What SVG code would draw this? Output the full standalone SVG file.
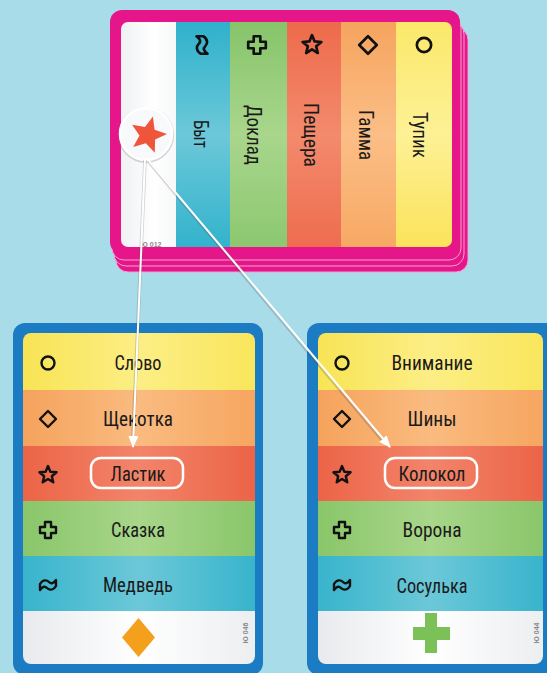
<svg xmlns="http://www.w3.org/2000/svg" width="547" height="673" viewBox="0 0 547 673">
<style>
.lbl{font-family:"Roboto Condensed","Liberation Sans Narrow","Roboto","Liberation Sans",sans-serif;font-size:21px;fill:#1a1a1a;text-anchor:middle;dominant-baseline:central}
.vl{font-family:"Roboto Condensed","Liberation Sans Narrow","Roboto","Liberation Sans",sans-serif;font-size:20px;fill:#1a1a1a;text-anchor:middle;dominant-baseline:central}
.id{font-family:"Liberation Sans",sans-serif;font-size:7px;font-weight:bold;fill:#8a8a8a;text-anchor:middle;dominant-baseline:central}
.sym{fill:none;stroke:#111;stroke-width:2.4;stroke-linejoin:round}
.hl{fill:none;stroke:#fff;stroke-width:2.5}
.conn{fill:none;stroke:#fff;stroke-width:2}
.shadow{fill:none;stroke:#555;stroke-width:3.5;opacity:0.25}
</style>
<defs>
<linearGradient id="gy" x1="0" x2="1" y1="0" y2="0"><stop offset="0" stop-color="#f8e455"/><stop offset="0.5" stop-color="#fcee85"/><stop offset="1" stop-color="#f9e65c"/></linearGradient>
<linearGradient id="go" x1="0" x2="1" y1="0" y2="0"><stop offset="0" stop-color="#f5a35c"/><stop offset="0.5" stop-color="#fabb80"/><stop offset="1" stop-color="#f6a660"/></linearGradient>
<linearGradient id="gr" x1="0" x2="1" y1="0" y2="0"><stop offset="0" stop-color="#ec6447"/><stop offset="0.5" stop-color="#f2846a"/><stop offset="1" stop-color="#ec6447"/></linearGradient>
<linearGradient id="gg" x1="0" x2="1" y1="0" y2="0"><stop offset="0" stop-color="#8ac66a"/><stop offset="0.5" stop-color="#a8d68a"/><stop offset="1" stop-color="#8ac66a"/></linearGradient>
<linearGradient id="gb" x1="0" x2="1" y1="0" y2="0"><stop offset="0" stop-color="#38b4cc"/><stop offset="0.5" stop-color="#6cc8d8"/><stop offset="1" stop-color="#38b4cc"/></linearGradient>
<linearGradient id="gw" x1="0" x2="1" y1="0" y2="0"><stop offset="0" stop-color="#e8eaed"/><stop offset="0.5" stop-color="#ffffff"/><stop offset="1" stop-color="#eceef0"/></linearGradient>
<linearGradient id="vy" x1="0" x2="0" y1="0" y2="1"><stop offset="0" stop-color="#fbe86a"/><stop offset="0.5" stop-color="#fdf196"/><stop offset="1" stop-color="#fbe35a"/></linearGradient>
<linearGradient id="vo" x1="0" x2="0" y1="0" y2="1"><stop offset="0" stop-color="#f6a45e"/><stop offset="0.5" stop-color="#fbbe86"/><stop offset="1" stop-color="#f7a964"/></linearGradient>
<linearGradient id="vr" x1="0" x2="0" y1="0" y2="1"><stop offset="0" stop-color="#ee6a4c"/><stop offset="0.5" stop-color="#f38a6c"/><stop offset="1" stop-color="#ef6c4f"/></linearGradient>
<linearGradient id="vg" x1="0" x2="0" y1="0" y2="1"><stop offset="0" stop-color="#86c46a"/><stop offset="0.5" stop-color="#a9d68c"/><stop offset="1" stop-color="#8cc870"/></linearGradient>
<linearGradient id="vb" x1="0" x2="0" y1="0" y2="1"><stop offset="0" stop-color="#2fb1cb"/><stop offset="0.5" stop-color="#6cc8d9"/><stop offset="1" stop-color="#33b3cc"/></linearGradient>
<linearGradient id="vw" x1="0" x2="1" y1="0" y2="0"><stop offset="0" stop-color="#f0f1f3"/><stop offset="0.6" stop-color="#ffffff"/><stop offset="1" stop-color="#f6f7f8"/></linearGradient>
<clipPath id="clipTop"><rect x="121" y="22" width="331" height="225" rx="7"/></clipPath>
<clipPath id="clipL"><rect x="23" y="333" width="232" height="331" rx="8"/></clipPath>
<clipPath id="clipR"><rect x="318" y="333" width="225" height="331" rx="8"/></clipPath>
<g id="s-circle"><circle r="6.5" class="sym"/></g>
<g id="s-diamond"><polygon points="0,-8 8,0 0,8 -8,0" class="sym"/></g>
<g id="s-star"><polygon points="0,-9 2.35,-3.24 8.56,-2.78 3.8,1.24 5.29,7.28 0,4 -5.29,7.28 -3.8,1.24 -8.56,-2.78 -2.35,-3.24" class="sym"/></g>
<g id="s-plus"><polygon points="-3,-8 3,-8 3,-3 8,-3 8,3 3,3 3,8 -3,8 -3,3 -8,3 -8,-3 -3,-3" class="sym"/></g>
<g id="s-wave"><path d="M-8,-1 C-5,-6 -1,-5 1,-3 S5,-1 8,-5 L8,1 C5,6 1,5 -1,3 S-5,1 -8,5 Z" class="sym"/></g>
<marker id="ah" viewBox="0 0 12 10" refX="11" refY="5" markerWidth="12" markerHeight="10" markerUnits="userSpaceOnUse" orient="auto"><path d="M0,0 L12,5 L0,10 Z" fill="#fff"/></marker>
</defs>
<rect width="547" height="673" fill="#a8dce8"/>

<g id="top-card">
  <rect x="116" y="28" width="352" height="244" rx="12" fill="#e4168a" stroke="#f6a2cf" stroke-width="1"/>
  <rect x="114" y="22" width="350" height="244" rx="12" fill="#e4168a" stroke="#f6a2cf" stroke-width="1"/>
  <rect x="112" y="16" width="349" height="244" rx="12" fill="#e4168a" stroke="#f6a2cf" stroke-width="1"/>
  <rect x="110" y="10" width="350" height="244" rx="12" fill="#e6168a"/>
  <g clip-path="url(#clipTop)">
    <rect x="121" y="22" width="56" height="225" fill="url(#vw)"/>
    <rect x="176" y="22" width="55" height="225" fill="url(#vb)"/>
    <rect x="230" y="22" width="57" height="225" fill="url(#vg)"/>
    <rect x="287" y="22" width="54" height="225" fill="url(#vr)"/>
    <rect x="341" y="22" width="56" height="225" fill="url(#vo)"/>
    <rect x="396" y="22" width="56" height="225" fill="url(#vy)"/>
  </g>
  <use href="#s-wave" transform="translate(202,45) rotate(90) scale(1.1)"/>
  <use href="#s-plus" transform="translate(257,45) scale(1.1)"/>
  <use href="#s-star" transform="translate(312,45) scale(1.1)"/>
  <use href="#s-diamond" transform="translate(368,45) scale(1.1)"/>
  <use href="#s-circle" transform="translate(424,45) scale(1.1)"/>
  <text class="vl" transform="translate(201,134) rotate(90)" textLength="28" lengthAdjust="spacingAndGlyphs">Быт</text>
  <text class="vl" transform="translate(254,135) rotate(90)" textLength="60" lengthAdjust="spacingAndGlyphs">Доклад</text>
  <text class="vl" transform="translate(311,135) rotate(90)" textLength="64" lengthAdjust="spacingAndGlyphs">Пещера</text>
  <text class="vl" transform="translate(366,135) rotate(90)" textLength="50" lengthAdjust="spacingAndGlyphs">Гамма</text>
  <text class="vl" transform="translate(420,135) rotate(90)" textLength="46" lengthAdjust="spacingAndGlyphs">Тупик</text>
  <circle cx="146" cy="135" r="26.5" fill="none" stroke="#777" stroke-width="3" opacity="0.3"/>
  <circle cx="146" cy="134" r="26" fill="#f8f9fa" stroke="#fff" stroke-width="2.5"/>
  <polygon points="152.9,116.6 154.6,129.7 167,134 155.1,139.6 154.8,152.7 145.8,143.2 133.2,147 139.5,135.4 132.1,124.7 145,127.1" fill="#ee553a"/>
  <text class="id" x="151" y="244">Ю 012</text>
</g>

<g id="card-left">
  <rect x="13" y="323" width="250" height="352" rx="12" fill="#1b7cc4"/>
  <g clip-path="url(#clipL)">
    <rect x="23" y="333" width="232" height="57" fill="url(#gy)"/>
    <rect x="23" y="390" width="232" height="56" fill="url(#go)"/>
    <rect x="23" y="446" width="232" height="55" fill="url(#gr)"/>
    <rect x="23" y="501" width="232" height="55" fill="url(#gg)"/>
    <rect x="23" y="556" width="232" height="55" fill="url(#gb)"/>
    <rect x="23" y="611" width="232" height="53" fill="url(#gw)"/>
  </g>
  <use href="#s-circle" transform="translate(48,363)"/>
  <use href="#s-diamond" transform="translate(48,419)"/>
  <use href="#s-star" transform="translate(48,475)"/>
  <use href="#s-plus" transform="translate(48,530)"/>
  <use href="#s-wave" transform="translate(48,585)"/>
  <text class="lbl" x="138" y="363" textLength="47" lengthAdjust="spacingAndGlyphs">Слово</text>
  <text class="lbl" x="138" y="419" textLength="70" lengthAdjust="spacingAndGlyphs">Щекотка</text>
  <rect class="hl" x="91" y="458" width="92" height="30" rx="10"/>
  <text class="lbl" x="138" y="474" textLength="55" lengthAdjust="spacingAndGlyphs">Ластик</text>
  <text class="lbl" x="138" y="530" textLength="54" lengthAdjust="spacingAndGlyphs">Сказка</text>
  <text class="lbl" x="138" y="585" textLength="70" lengthAdjust="spacingAndGlyphs">Медведь</text>
  <polygon points="138.5,618 155,637.5 138.5,657 122,637.5" fill="#f5a01c"/>
  <text class="id" transform="translate(245,633) rotate(-90)">Ю 046</text>
</g>

<g id="card-right">
  <rect x="307" y="323" width="252" height="352" rx="12" fill="#1b7cc4"/>
  <g clip-path="url(#clipR)">
    <rect x="318" y="333" width="225" height="57" fill="url(#gy)"/>
    <rect x="318" y="390" width="225" height="56" fill="url(#go)"/>
    <rect x="318" y="446" width="225" height="55" fill="url(#gr)"/>
    <rect x="318" y="501" width="225" height="55" fill="url(#gg)"/>
    <rect x="318" y="556" width="225" height="55" fill="url(#gb)"/>
    <rect x="318" y="611" width="225" height="53" fill="url(#gw)"/>
  </g>
  <use href="#s-circle" transform="translate(342,363)"/>
  <use href="#s-diamond" transform="translate(342,419)"/>
  <use href="#s-star" transform="translate(342,475)"/>
  <use href="#s-plus" transform="translate(342,530)"/>
  <use href="#s-wave" transform="translate(342,585)"/>
  <text class="lbl" x="432" y="363" textLength="81" lengthAdjust="spacingAndGlyphs">Внимание</text>
  <text class="lbl" x="432" y="419" textLength="49" lengthAdjust="spacingAndGlyphs">Шины</text>
  <rect class="hl" x="385" y="458" width="92" height="30" rx="10"/>
  <text class="lbl" x="432" y="474" textLength="67" lengthAdjust="spacingAndGlyphs">Колокол</text>
  <text class="lbl" x="432" y="530" textLength="59" lengthAdjust="spacingAndGlyphs">Ворона</text>
  <text class="lbl" x="432" y="586" textLength="71" lengthAdjust="spacingAndGlyphs">Сосулька</text>
  <polygon points="425,613 437,613 437,627 450,627 450,640 437,640 437,653 425,653 425,640 413,640 413,627 425,627" fill="#7cc157"/>
  <text class="id" transform="translate(536,633) rotate(-90)">Ю 044</text>
</g>

<g id="connectors">
  <line class="shadow" x1="145" y1="160" x2="133" y2="437"/>
  <line class="shadow" x1="149" y1="162" x2="382" y2="440"/>
  <line class="conn" x1="145" y1="159" x2="133" y2="447" marker-end="url(#ah)"/>
  <line class="conn" x1="149" y1="161" x2="390" y2="447" marker-end="url(#ah)"/>
</g>
</svg>
